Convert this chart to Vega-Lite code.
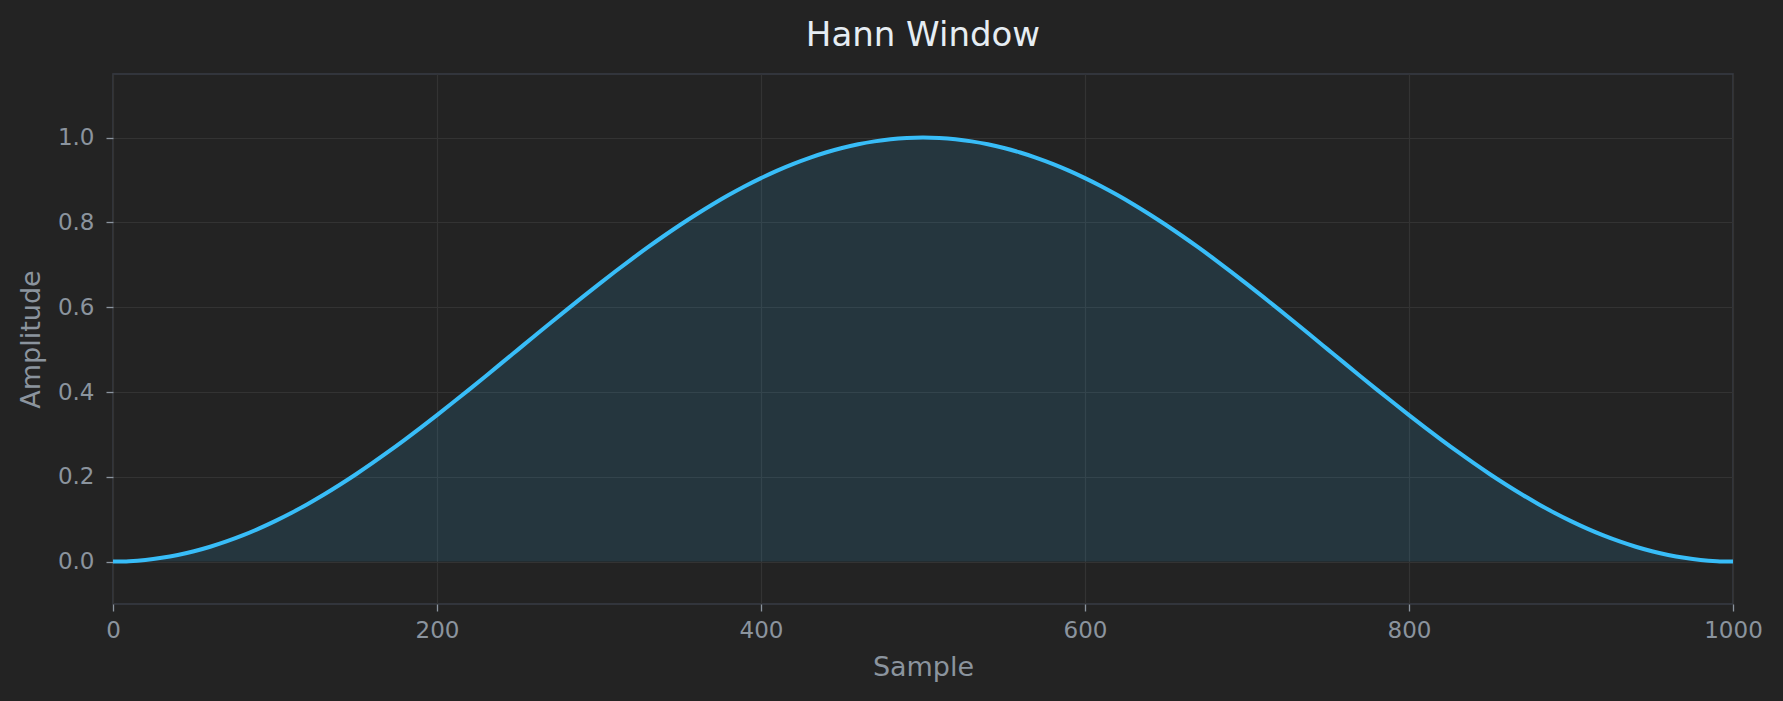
{
  "$schema": "https://vega.github.io/schema/vega-lite/v6.json",
  "width": 1620,
  "height": 530,
  "autosize": {"type": "none"},
  "padding": {"left": 113, "top": 74, "right": 50, "bottom": 97},
  "background": "#232323",
  "title": {
    "text": "Hann Window",
    "font": "DejaVu Sans",
    "fontSize": 34,
    "fontWeight": "normal",
    "color": "#e6edf3",
    "anchor": "middle",
    "baseline": "alphabetic",
    "offset": -6
  },
  "config": {
    "view": {"stroke": "#393d45", "strokeWidth": 1.5},
    "axis": {
      "labelFont": "DejaVu Sans",
      "titleFont": "DejaVu Sans",
      "labelFontSize": 23,
      "titleFontSize": 27,
      "titleFontWeight": "normal",
      "labelColor": "#8b949e",
      "titleColor": "#8b949e",
      "tickColor": "#8b949e",
      "tickSize": 7,
      "tickWidth": 1.3,
      "gridColor": "#333333",
      "gridWidth": 1.2,
      "domain": false,
      "labelFlush": false
    }
  },
  "data": {
    "values": [
      {"sample": 0, "amplitude": 0},
      {"sample": 10, "amplitude": 0.001},
      {"sample": 20, "amplitude": 0.0039},
      {"sample": 30, "amplitude": 0.0089},
      {"sample": 40, "amplitude": 0.0157},
      {"sample": 50, "amplitude": 0.0245},
      {"sample": 60, "amplitude": 0.0351},
      {"sample": 70, "amplitude": 0.0476},
      {"sample": 80, "amplitude": 0.0618},
      {"sample": 90, "amplitude": 0.0778},
      {"sample": 100, "amplitude": 0.0955},
      {"sample": 110, "amplitude": 0.1147},
      {"sample": 120, "amplitude": 0.1355},
      {"sample": 130, "amplitude": 0.1577},
      {"sample": 140, "amplitude": 0.1813},
      {"sample": 150, "amplitude": 0.2061},
      {"sample": 160, "amplitude": 0.2321},
      {"sample": 170, "amplitude": 0.2591},
      {"sample": 180, "amplitude": 0.2871},
      {"sample": 190, "amplitude": 0.3159},
      {"sample": 200, "amplitude": 0.3455},
      {"sample": 210, "amplitude": 0.3757},
      {"sample": 220, "amplitude": 0.4063},
      {"sample": 230, "amplitude": 0.4373},
      {"sample": 240, "amplitude": 0.4686},
      {"sample": 250, "amplitude": 0.5},
      {"sample": 260, "amplitude": 0.5314},
      {"sample": 270, "amplitude": 0.5627},
      {"sample": 280, "amplitude": 0.5937},
      {"sample": 290, "amplitude": 0.6243},
      {"sample": 300, "amplitude": 0.6545},
      {"sample": 310, "amplitude": 0.6841},
      {"sample": 320, "amplitude": 0.7129},
      {"sample": 330, "amplitude": 0.7409},
      {"sample": 340, "amplitude": 0.7679},
      {"sample": 350, "amplitude": 0.7939},
      {"sample": 360, "amplitude": 0.8187},
      {"sample": 370, "amplitude": 0.8423},
      {"sample": 380, "amplitude": 0.8645},
      {"sample": 390, "amplitude": 0.8853},
      {"sample": 400, "amplitude": 0.9045},
      {"sample": 410, "amplitude": 0.9222},
      {"sample": 420, "amplitude": 0.9382},
      {"sample": 430, "amplitude": 0.9524},
      {"sample": 440, "amplitude": 0.9649},
      {"sample": 450, "amplitude": 0.9755},
      {"sample": 460, "amplitude": 0.9843},
      {"sample": 470, "amplitude": 0.9911},
      {"sample": 480, "amplitude": 0.9961},
      {"sample": 490, "amplitude": 0.999},
      {"sample": 500, "amplitude": 1},
      {"sample": 510, "amplitude": 0.999},
      {"sample": 520, "amplitude": 0.9961},
      {"sample": 530, "amplitude": 0.9911},
      {"sample": 540, "amplitude": 0.9843},
      {"sample": 550, "amplitude": 0.9755},
      {"sample": 560, "amplitude": 0.9649},
      {"sample": 570, "amplitude": 0.9524},
      {"sample": 580, "amplitude": 0.9382},
      {"sample": 590, "amplitude": 0.9222},
      {"sample": 600, "amplitude": 0.9045},
      {"sample": 610, "amplitude": 0.8853},
      {"sample": 620, "amplitude": 0.8645},
      {"sample": 630, "amplitude": 0.8423},
      {"sample": 640, "amplitude": 0.8187},
      {"sample": 650, "amplitude": 0.7939},
      {"sample": 660, "amplitude": 0.7679},
      {"sample": 670, "amplitude": 0.7409},
      {"sample": 680, "amplitude": 0.7129},
      {"sample": 690, "amplitude": 0.6841},
      {"sample": 700, "amplitude": 0.6545},
      {"sample": 710, "amplitude": 0.6243},
      {"sample": 720, "amplitude": 0.5937},
      {"sample": 730, "amplitude": 0.5627},
      {"sample": 740, "amplitude": 0.5314},
      {"sample": 750, "amplitude": 0.5},
      {"sample": 760, "amplitude": 0.4686},
      {"sample": 770, "amplitude": 0.4373},
      {"sample": 780, "amplitude": 0.4063},
      {"sample": 790, "amplitude": 0.3757},
      {"sample": 800, "amplitude": 0.3455},
      {"sample": 810, "amplitude": 0.3159},
      {"sample": 820, "amplitude": 0.2871},
      {"sample": 830, "amplitude": 0.2591},
      {"sample": 840, "amplitude": 0.2321},
      {"sample": 850, "amplitude": 0.2061},
      {"sample": 860, "amplitude": 0.1813},
      {"sample": 870, "amplitude": 0.1577},
      {"sample": 880, "amplitude": 0.1355},
      {"sample": 890, "amplitude": 0.1147},
      {"sample": 900, "amplitude": 0.0955},
      {"sample": 910, "amplitude": 0.0778},
      {"sample": 920, "amplitude": 0.0618},
      {"sample": 930, "amplitude": 0.0476},
      {"sample": 940, "amplitude": 0.0351},
      {"sample": 950, "amplitude": 0.0245},
      {"sample": 960, "amplitude": 0.0157},
      {"sample": 970, "amplitude": 0.0089},
      {"sample": 980, "amplitude": 0.0039},
      {"sample": 990, "amplitude": 0.001},
      {"sample": 1000, "amplitude": 0}
    ]
  },
  "encoding": {
    "x": {
      "field": "sample",
      "type": "quantitative",
      "title": "Sample",
      "scale": {"domain": [0, 1000], "nice": false},
      "axis": {
        "values": [0, 200, 400, 600, 800, 1000],
        "format": "d",
        "labelPadding": 8,
        "titlePadding": 12
      }
    },
    "y": {
      "field": "amplitude",
      "type": "quantitative",
      "title": "Amplitude",
      "scale": {"domain": [-0.1, 1.15], "nice": false, "zero": false},
      "axis": {
        "values": [0, 0.2, 0.4, 0.6, 0.8, 1.0],
        "format": ".1f",
        "labelPadding": 12,
        "titlePadding": 12
      }
    }
  },
  "layer": [
    {
      "mark": {"type": "area", "color": "#38bdf8", "opacity": 0.13, "interpolate": "monotone"}
    },
    {
      "mark": {"type": "line", "color": "#38bdf8", "strokeWidth": 4, "interpolate": "monotone"}
    }
  ]
}
